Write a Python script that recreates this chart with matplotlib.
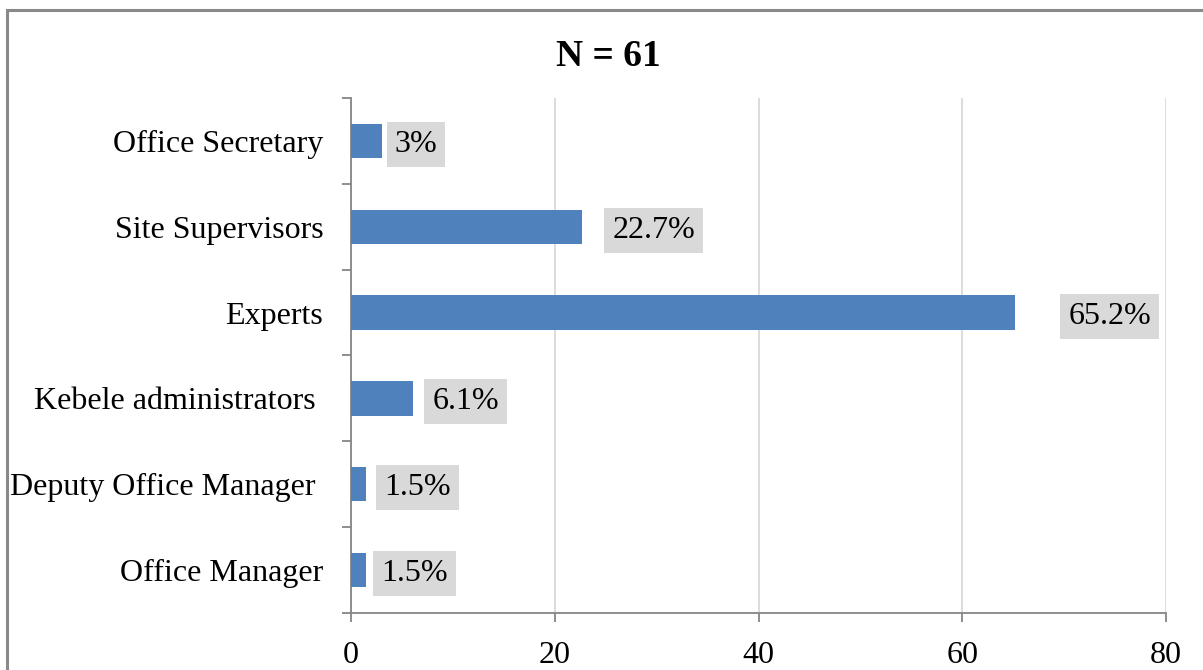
import matplotlib.pyplot as plt
from matplotlib.patches import Rectangle
from matplotlib.ticker import FixedLocator

plt.rcParams['font.family'] = ['Liberation Serif', 'DejaVu Serif']

positions = ['Office Manager', 'Deputy Office Manager ', 'Kebele administrators ',
             'Experts', 'Site Supervisors', 'Office Secretary']
share = [1.5, 1.5, 6.1, 65.2, 22.7, 3.0]
labels = ['1.5%', '1.5%', '6.1%', '65.2%', '22.7%', '3%']
label_gap = [7, 10, 11, 45, 22, 5]  # px between bar end and label box

fig = plt.figure(figsize=(12.03, 6.70), dpi=100)
ax = fig.add_axes([351 / 1203, 1 - 613 / 670, 815 / 1203, 515 / 670])

# chart frame
fig.patches.append(Rectangle((7 / 1203, -0.1), 1.2, 1 - 10 / 670 + 0.1,
                             transform=fig.transFigure, fill=False,
                             edgecolor='#898989', linewidth=2.2))

y = range(len(positions))
ax.barh(y, share, height=0.4, color='#4f81bd', zorder=3)

for i, (v, txt) in enumerate(zip(share, labels)):
    ax.annotate(txt, (v, i), xytext=(label_gap[i] + 8, 0), textcoords='offset pixels',
                ha='left', va='center_baseline', fontsize=23, color='black',
                bbox=dict(boxstyle='square,pad=0.25', fc='#d9d9d9', ec='none'))

ax.set_xlim(0, 80)
ax.set_ylim(-0.5, len(positions) - 0.5)
ax.set_xticks([0, 20, 40, 60, 80])
ax.set_yticks(list(y))
ax.set_yticklabels(positions, fontsize=23)
ax.yaxis.set_minor_locator(FixedLocator([k - 0.5 for k in range(len(positions) + 1)]))
ax.tick_params(axis='y', which='major', length=0, pad=20)
ax.tick_params(axis='y', which='minor', length=6.5, width=1.3, color='#868686', direction='out')
ax.tick_params(axis='x', length=6.5, width=1.3, color='#868686', direction='out',
               labelsize=23, pad=14)

ax.grid(axis='x', color='#d9d9d9', linewidth=1.3, zorder=0)
for s in ['top', 'right']:
    ax.spines[s].set_visible(False)
for s in ['left', 'bottom']:
    ax.spines[s].set_color('#868686')
    ax.spines[s].set_linewidth(1.3)

fig.text(608 / 1203, 1 - 57 / 670, 'N = 61', ha='center', va='center',
         fontsize=27, fontweight='bold')

fig.savefig('out.png', dpi=100)
